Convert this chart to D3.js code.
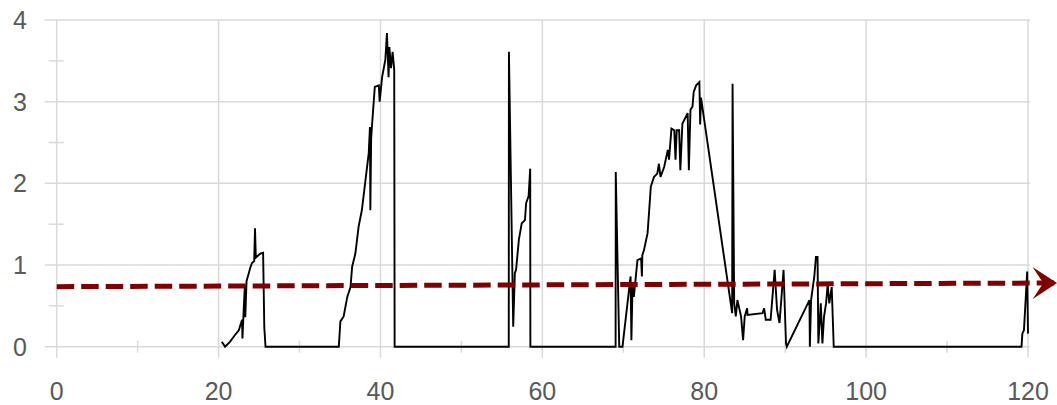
<!DOCTYPE html>
<html>
<head>
<meta charset="utf-8">
<script src="https://cdn.jsdelivr.net/npm/d3@7/dist/d3.min.js"></script>
<style>
  html, body { margin: 0; padding: 0; background: #ffffff; }
  svg { display: block; }
</style>
</head>
<body>
<svg id="chart" width="1057" height="405"></svg>
<script>
// ---- data ----
const xTicks = [0, 20, 40, 60, 80, 100, 120];
const yTicks = [0, 1, 2, 3, 4];
const xMinorTicks = [10, 30, 50, 70, 90, 110];
const yMinorTicks = [0.5, 1.5, 2.5, 3.5];

const seriesX = [
  20.4, 20.8, 21.4, 22.0, 22.5, 22.9, 22.95, 23.1, 23.25, 23.3, 23.45, 23.9, 24.1, 24.4, 24.5, 24.6, 25.15, 25.5, 25.65, 25.8,
  34.85, 35.05, 35.45, 35.9, 36.3, 36.5, 36.9, 37.3, 37.7, 38.1, 38.55, 38.7, 38.75, 38.85, 38.97, 39.3, 39.8, 39.9, 40.2, 40.6, 40.8, 41.0, 41.1, 41.3, 41.5, 41.7, 41.75,
  55.85, 55.87, 56.4, 56.6, 56.75, 57.1, 57.45, 57.85, 58.0, 58.3, 58.5, 58.52,
  69.05, 69.07, 69.5, 69.9, 70.9, 71.0, 71.15, 71.3, 71.75, 72.2, 72.3, 72.35, 72.55, 73.0, 73.2, 73.4, 73.8, 74.2, 74.4, 74.6, 75.05, 75.5, 75.65, 75.95, 76.3, 76.45, 76.6, 76.9, 77.05, 77.3, 77.95, 78.1, 78.3, 78.55, 78.7, 79.0, 79.4, 79.5, 79.6,
  83.45, 83.5, 83.7, 83.9, 84.1, 84.55, 84.8, 85.0, 85.3, 85.35, 87.2, 87.4, 87.6, 88.2, 88.7, 89.0, 89.3, 89.8, 90.1, 90.2,
  93.0, 93.05, 93.2, 93.6, 93.8, 94.0, 94.1, 94.4, 94.6, 94.8, 95.05, 95.25, 95.45, 95.75, 96.0,
  119.2, 119.3, 119.5, 119.9, 120.0
];
const seriesY = [
  0.06, 0, 0.06, 0.14, 0.2, 0.33, 0.1, 0.45, 0.75, 0.36, 0.8, 0.96, 1.02, 1.05, 1.45, 1.09, 1.14, 1.15, 0.23, 0,
  0, 0.31, 0.37, 0.61, 0.73, 0.98, 1.14, 1.47, 1.67, 2.0, 2.37, 2.69, 1.67, 2.55, 2.73, 3.18, 3.2, 3.0, 3.3, 3.51, 3.84, 3.3, 3.67, 3.41, 3.61, 3.39, 0,
  0, 3.61, 0.245, 0.9, 0.94, 1.31, 1.51, 1.55, 1.76, 1.84, 2.18, 0,
  0, 2.14, 0, 0, 0.86, 0.08, 0.78, 0.61, 1.06, 1.08, 0.86, 1.12, 1.18, 1.39, 1.67, 1.96, 2.08, 2.12, 2.24, 2.08, 2.2, 2.41, 2.29, 2.67, 2.65, 2.29, 2.65, 2.65, 2.16, 2.73, 2.86, 2.16, 2.9, 2.94, 3.12, 3.2, 3.24, 2.72, 3.05,
  0.41, 3.22, 0.53, 0.37, 0.57, 0.37, 0.08, 0.37, 0.47, 0.39, 0.41, 0.47, 0.33, 0.33, 0.94, 0.45, 0.29, 0.94, 0.04, 0,
  0.57, 0, 0.57, 0.86, 1.1, 1.1, 0.04, 0.53, 0.04, 0.37, 0.53, 0.76, 0.53, 0.73, 0,
  0, 0.16, 0.2, 0.92, 0.16
];

const trendX = [0, 123.6];
const trendY = [0.735, 0.78];

// ---- chart ----
const svg = d3.select("#chart");
const x = d3.scaleLinear().domain([0, 120]).range([56.7, 1028]);
const y = d3.scaleLinear().domain([0, 4]).range([346.7, 20]);

const gridColor = "#d9d9d9";
const textColor = "#595959";
const font = "'Liberation Sans', Arial, sans-serif";

const g = svg.append("g");

// horizontal gridlines (incl. major y ticks)
g.selectAll("line.hgrid").data(yTicks).enter().append("line")
  .attr("x1", x(0) - 12).attr("x2", x(120) + 2)
  .attr("y1", d => y(d)).attr("y2", d => y(d))
  .attr("stroke", gridColor).attr("stroke-width", 1.5);

// vertical gridlines (incl. major x ticks)
g.selectAll("line.vgrid").data(xTicks).enter().append("line")
  .attr("x1", d => x(d)).attr("x2", d => x(d))
  .attr("y1", y(4)).attr("y2", y(0) + 11)
  .attr("stroke", gridColor).attr("stroke-width", 1.5);

// minor ticks
g.selectAll("line.xminor").data(xMinorTicks).enter().append("line")
  .attr("x1", d => x(d)).attr("x2", d => x(d))
  .attr("y1", y(0) - 6).attr("y2", y(0) + 6)
  .attr("stroke", gridColor).attr("stroke-width", 1.5);
g.selectAll("line.yminor").data(yMinorTicks).enter().append("line")
  .attr("x1", x(0) - 8).attr("x2", x(0) + 7)
  .attr("y1", d => y(d)).attr("y2", d => y(d))
  .attr("stroke", gridColor).attr("stroke-width", 1.5);

// tick labels
g.selectAll("text.xl").data(xTicks).enter().append("text")
  .attr("x", d => x(d)).attr("y", 400)
  .attr("text-anchor", "middle")
  .attr("font-family", font).attr("font-size", 25).attr("fill", textColor)
  .text(d => d);
g.selectAll("text.yl").data(yTicks).enter().append("text")
  .attr("x", 27).attr("y", d => y(d) + 9)
  .attr("text-anchor", "end")
  .attr("font-family", font).attr("font-size", 25).attr("fill", textColor)
  .text(d => d);

// data line
const pts = seriesX.map((v, i) => [v, seriesY[i]]);
const line = d3.line().x(d => x(d[0])).y(d => y(d[1]));
g.append("path").datum(pts)
  .attr("d", line)
  .attr("fill", "none").attr("stroke", "#000000")
  .attr("stroke-width", 1.9).attr("stroke-linejoin", "miter").attr("stroke-miterlimit", 3);

// arrow marker
const defs = svg.append("defs");
defs.append("marker")
  .attr("id", "arrow")
  .attr("markerUnits", "userSpaceOnUse")
  .attr("markerWidth", 26).attr("markerHeight", 32)
  .attr("viewBox", "0 0 24 30")
  .attr("refX", 23).attr("refY", 15)
  .attr("orient", "auto")
  .append("path")
  .attr("d", "M0,0 L23,15 L0,30 L10,15 Z")
  .attr("fill", "#7f0000");

const trendPts = trendX.map((v, i) => [v, trendY[i]]);
g.append("path").datum(trendPts)
  .attr("d", line)
  .attr("fill", "none").attr("stroke", "#7f0000")
  .attr("stroke-width", 5)
  .attr("stroke-dasharray", "17.5,7")
  .attr("marker-end", "url(#arrow)");
</script>
</body>
</html>
